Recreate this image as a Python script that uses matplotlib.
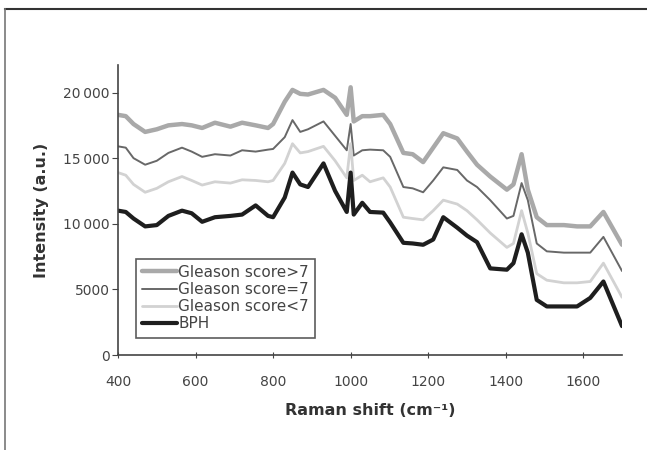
import matplotlib
matplotlib.use("Agg")
import matplotlib.pyplot as plt
from matplotlib.lines import Line2D

plt.rcParams['font.family'] = ['DejaVu Sans']

# Raman shift grid (cm-1)
shift = [400, 420, 440, 470, 500, 530, 565, 590, 617, 650, 690, 720, 755, 787, 800,
         830, 850, 870, 890, 930, 960, 990, 1000, 1008, 1030, 1050, 1084, 1102, 1136,
         1160, 1187, 1213, 1239, 1275, 1300, 1326, 1360, 1403, 1420, 1441, 1457, 1480,
         1506, 1550, 1584, 1618, 1652, 1700]

gleason_gt7 = [18300, 18200, 17600, 17000, 17200, 17500, 17600, 17500, 17300, 17700, 17400,
               17700, 17500, 17300, 17600, 19300, 20200, 19900, 19850, 20200, 19600, 18300,
               20400, 17800, 18200, 18200, 18300, 17600, 15400, 15300, 14700, 15800, 16900,
               16500, 15500, 14500, 13600, 12600, 13000, 15300, 12600, 10500, 9900, 9900,
               9800, 9800, 10900, 8400]

gleason_eq7 = [15900, 15800, 15000, 14500, 14800, 15400, 15800, 15500, 15100, 15300, 15200,
               15600, 15500, 15650, 15700, 16600, 17900, 17000, 17200, 17800, 16700, 15600,
               17600, 15200, 15600, 15650, 15600, 15100, 12800, 12700, 12400, 13300, 14300,
               14100, 13300, 12800, 11800, 10400, 10600, 13100, 11800, 8500, 7900, 7800,
               7800, 7800, 9000, 6400]

gleason_lt7 = [13900, 13700, 13000, 12400, 12700, 13200, 13600, 13300, 12950, 13200, 13100,
               13350, 13300, 13200, 13300, 14600, 16100, 15400, 15500, 15900, 14800, 13500,
               16100, 13300, 13700, 13200, 13500, 12800, 10500, 10400, 10300, 11000, 11800,
               11500, 11000, 10300, 9300, 8200, 8500, 11000, 9300, 6200, 5700, 5500,
               5500, 5600, 7000, 4400]

bph = [11000, 10900, 10400, 9800, 9900, 10600, 11000, 10800, 10150, 10500, 10600,
       10700, 11400, 10600, 10500, 12000, 13900, 13000, 12800, 14600, 12500, 10900,
       13900, 10700, 11600, 10900, 10850, 10100, 8550, 8500, 8400, 8800, 10500,
       9700, 9100, 8600, 6600, 6500, 7000, 9200, 7800, 4200, 3700, 3700,
       3700, 4350, 5600, 2200]

labels = ["Gleason score>7", "Gleason score=7", "Gleason score<7", "BPH"]
x_ticks = [400, 600, 800, 1000, 1200, 1400, 1600]
y_ticks = [0, 5000, 10000, 15000, 20000]
y_tick_labels = ["0", "5000", "10\u2009000", "15\u2009000", "20\u2009000"]

fig = plt.figure(figsize=(6.47, 4.5), dpi=100)
ax = fig.add_axes([0.1824, 0.2111, 0.779, 0.6445])

line_kw = dict(solid_joinstyle='round', solid_capstyle='round')
ax.plot(shift, gleason_gt7, color='#a9a9a9', lw=3.2, label=labels[0], **line_kw)
ax.plot(shift, gleason_eq7, color='#686868', lw=1.4, label=labels[1], **line_kw)
ax.plot(shift, gleason_lt7, color='#d2d2d2', lw=2.0, label=labels[2], **line_kw)
ax.plot(shift, bph, color='#1e1e1e', lw=3.0, label=labels[3], **line_kw)

ax.set_xlim(400, 1700)
ax.set_ylim(0, 22100)
ax.set_xticks(x_ticks)
ax.set_yticks(y_ticks)
ax.set_yticklabels(y_tick_labels)

for side in ['top', 'right']:
    ax.spines[side].set_visible(False)
for side in ['left', 'bottom']:
    ax.spines[side].set_color('#444444')
    ax.spines[side].set_linewidth(1.2)

ax.tick_params(axis='y', direction='out', length=4, color='#444444',
               labelsize=10, labelcolor='#444444', pad=2)
ax.tick_params(axis='x', direction='inout', length=5, color='#444444',
               labelsize=10, labelcolor='#444444', pad=12)

ax.set_xlabel("Raman shift (cm\u207b\u00b9)", fontsize=11.5, fontweight='bold',
              color='#333333', labelpad=10)
ax.set_ylabel("Intensity (a.u.)", fontsize=11.5, fontweight='bold',
              color='#333333', labelpad=10)

leg = ax.legend(loc='lower left', bbox_to_anchor=(0.035, 0.06), fontsize=11,
                handlelength=2.3, handletextpad=0.1, labelspacing=0.15,
                borderpad=0.4, frameon=True, fancybox=False, labelcolor='#444444',
                borderaxespad=0)
leg.get_frame().set_edgecolor('#333333')
leg.get_frame().set_linewidth(1.2)

# outer frame lines of the figure panel
fig.add_artist(Line2D([5 / 647, 1.0], [1 - 9 / 450, 1 - 9 / 450],
                      transform=fig.transFigure, color='#333333', lw=1.5))
fig.add_artist(Line2D([5 / 647, 5 / 647], [0.0, 1 - 9 / 450],
                      transform=fig.transFigure, color='#777777', lw=1.2))

fig.savefig("out.png", dpi=100)
